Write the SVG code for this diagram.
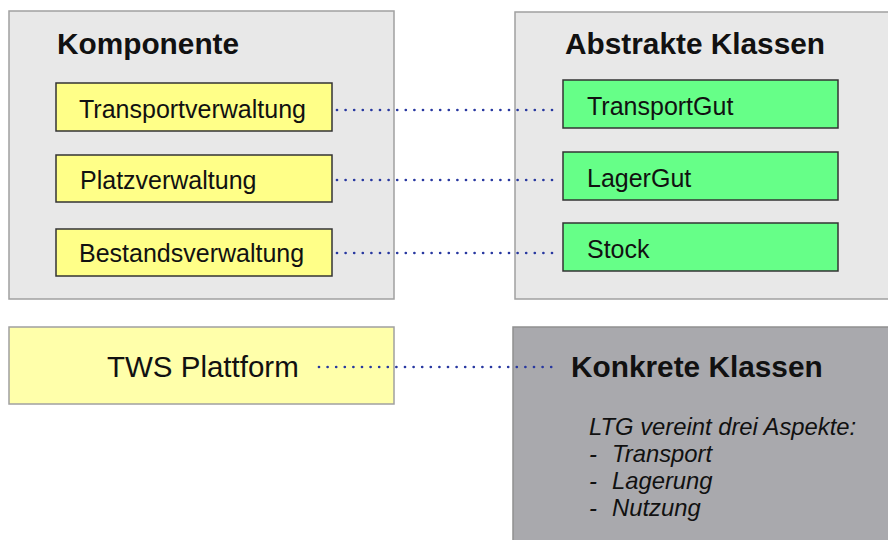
<svg xmlns="http://www.w3.org/2000/svg" width="888" height="540" viewBox="0 0 888 540">
<style>
.cont{fill:#e8e8e8;stroke:#a0a0a0;stroke-width:1.5}
.yel{fill:#ffff88;stroke:#333;stroke-width:1.5}
.grn{fill:#66ff88;stroke:#333;stroke-width:1.5}
.t{font-family:"Liberation Sans",Arial,sans-serif;fill:#111}
.h{font-size:29.8px;font-weight:bold}
.n{font-size:25px}
.i{font-size:23.8px;font-style:italic}
.dot{stroke:#2838a0;stroke-width:2.7;stroke-linecap:round;stroke-dasharray:0 8.6;fill:none}
</style>
<rect width="888" height="540" fill="#fff"/>
<g id="komponente">
<rect class="cont" x="9" y="11" width="385" height="288"/>
<text class="t h" x="57" y="54">Komponente</text>
</g>
<g id="abstrakte">
<rect class="cont" x="515" y="12" width="380" height="287"/>
<text class="t h" x="565" y="54">Abstrakte Klassen</text>
</g>
<g id="connectors">
<line class="dot" x1="337" y1="110" x2="553" y2="110"/>
<line class="dot" x1="337" y1="180" x2="553" y2="180"/>
<line class="dot" x1="337" y1="253" x2="553" y2="253"/>
</g>
<g id="transportverwaltung">
<rect class="yel" x="56" y="83" width="276" height="48"/>
<text class="t n" x="79" y="118">Transportverwaltung</text>
</g>
<g id="platzverwaltung">
<rect class="yel" x="56" y="155" width="276" height="47"/>
<text class="t n" x="80" y="189">Platzverwaltung</text>
</g>
<g id="bestandsverwaltung">
<rect class="yel" x="56" y="229" width="276" height="47"/>
<text class="t n" x="79" y="262">Bestandsverwaltung</text>
</g>
<g id="transportgut">
<rect class="grn" x="563" y="80" width="275" height="48"/>
<text class="t n" x="587" y="115">TransportGut</text>
</g>
<g id="lagergut">
<rect class="grn" x="563" y="152" width="275" height="48"/>
<text class="t n" x="587" y="187">LagerGut</text>
</g>
<g id="stock">
<rect class="grn" x="563" y="223" width="275" height="48"/>
<text class="t n" x="587" y="258">Stock</text>
</g>
<g id="tws">
<rect x="9" y="327" width="385" height="77" fill="#ffffaa" stroke="#a0a0a0" stroke-width="1.5"/>
<text class="t" x="107" y="377" font-size="29.5">TWS Plattform</text>
</g>
<g id="konkrete">
<rect x="513" y="327" width="380" height="220" fill="#a9a9ad" stroke="#909090" stroke-width="1.5"/>
<text class="t h" x="571" y="377">Konkrete Klassen</text>
<text class="t i" x="589" y="435">LTG vereint drei Aspekte:</text>
<text class="t i" y="462"><tspan x="589">-</tspan><tspan x="612">Transport</tspan></text>
<text class="t i" y="489"><tspan x="589">-</tspan><tspan x="612">Lagerung</tspan></text>
<text class="t i" y="516"><tspan x="589">-</tspan><tspan x="612">Nutzung</tspan></text>
</g>
<g id="connectors2">
<line class="dot" x1="319" y1="367" x2="553" y2="367"/>
</g>
</svg>
